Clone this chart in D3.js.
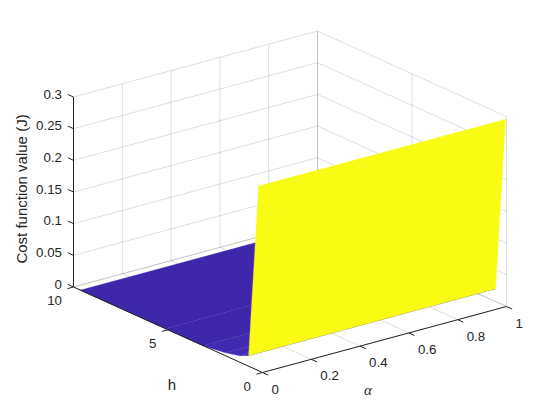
<!DOCTYPE html>
<html lang="en">
  <head>
    <meta charset="UTF-8" />
    <title>Cost function surface</title>
    <style>
      body {
        margin: 0;
        background: #fff;
      }
      svg {
        display: block;
      }
      text {
        font-family: "Liberation Sans", Arial, sans-serif;
        fill: #262626;
      }
      .tick-label {
        font-size: 13.3px;
      }
      .axis-label {
        font-size: 15px;
      }
    </style>
  </head>
  <body>
    <svg width="560" height="419"></svg>

    <script src="https://cdn.jsdelivr.net/npm/d3@7"></script>

    <script>
      // Ticks
      const alphaTicks = [0, 0.2, 0.4, 0.6, 0.8, 1];
      const hTicks = [0, 5, 10];
      const costTicks = [0, 0.05, 0.1, 0.15, 0.2, 0.25, 0.3];

      // Surface samples: the cost only depends on h in this picture
      const alphaValues = [-0.012, 1];
      const hValues = [0.05, 0.58, 1.05, 1.8, 3, 5, 9.5];
      const costValues = [0.295, 0.02, 0.0135, 0.008, 0.003, 0.003, 0.003];

      // Parula colormap stops, low to high
      const parula = ["#3e26a8", "#4a3de0", "#2f8ff0", "#1fb3c8", "#5fc67f", "#d0bc3c", "#f9fb15"];

      const svg = d3.select("svg");

      // Each data axis moves a point across the screen, so two scales per axis
      const alphaX = d3.scaleLinear().domain([0, 1]).range([0, 244]);
      const alphaY = d3.scaleLinear().domain([0, 1]).range([0, -66]);
      const hX = d3.scaleLinear().domain([0, 10]).range([0, -189]);
      const hY = d3.scaleLinear().domain([0, 10]).range([0, -85.5]);
      const costY = d3.scaleLinear().domain([0, 0.3]).range([0, -190]);

      const color = d3
        .scaleLinear()
        .domain(parula.map((c, i) => (i / (parula.length - 1)) * 0.295))
        .range(parula);

      function project(a, h, z) {
        return [262.5 + alphaX(a) + hX(h), 372.5 + alphaY(a) + hY(h) + costY(z)];
      }

      function drawLine(g, from, to, stroke, opacity, width) {
        g.append("path")
          .attr("d", d3.line()([project(...from), project(...to)]))
          .attr("fill", "none")
          .attr("stroke", stroke)
          .attr("stroke-opacity", opacity)
          .attr("stroke-width", width);
      }

      // Grid on the floor and the two back walls
      const grid = svg.append("g");
      const gridLine = (from, to) => drawLine(grid, from, to, "#262626", 0.15, 1);

      costTicks.forEach((z) => {
        gridLine([0, 10, z], [1, 10, z]);
        gridLine([1, 10, z], [1, 0, z]);
      });
      alphaTicks.forEach((a) => {
        gridLine([a, 10, 0], [a, 10, 0.3]);
        gridLine([a, 0, 0], [a, 10, 0]);
      });
      hTicks.forEach((h) => {
        gridLine([1, h, 0], [1, h, 0.3]);
        gridLine([0, h, 0], [1, h, 0]);
      });

      // Surface bands, painted from the far end of h to the near end
      const surface = svg.append("g");
      d3.range(hValues.length - 2, -1, -1).forEach((i) => {
        const quad = [
          project(alphaValues[0], hValues[i], costValues[i]),
          project(alphaValues[1], hValues[i], costValues[i]),
          project(alphaValues[1], hValues[i + 1], costValues[i + 1]),
          project(alphaValues[0], hValues[i + 1], costValues[i + 1]),
        ];
        surface
          .append("path")
          .attr("d", d3.line().curve(d3.curveLinearClosed)(quad))
          .attr("fill", color(costValues[i]))
          .attr("stroke", color(costValues[i]))
          .attr("stroke-width", 0.3);
      });

      // Axis lines and ticks
      const axes = svg.append("g");
      const axisLine = (from, to) => drawLine(axes, from, to, "#262626", 1, 1);

      axisLine([0, 10, 0], [0, 10, 0.3]);
      axisLine([0, 0, 0], [0, 10, 0]);
      axisLine([0, 0, 0], [1, 0, 0]);

      costTicks.forEach((z) => axisLine([0, 10, z], [0, 10.3, z]));
      hTicks.forEach((h) => axisLine([0, h, 0], [-0.025, h, 0]));
      alphaTicks.forEach((a) => axisLine([a, 0, 0], [a, -0.3, 0]));

      // Tick labels
      const labels = svg.append("g").attr("class", "tick-label");

      costTicks.forEach((z) => {
        const [x, y] = project(0, 10, z);
        labels
          .append("text")
          .attr("x", x - 11.5)
          .attr("y", y + 1.5)
          .attr("text-anchor", "end")
          .text(z);
      });
      hTicks.forEach((h) => {
        const [x, y] = project(0, h, 0);
        labels
          .append("text")
          .attr("x", x - 11.5)
          .attr("y", y + 18)
          .attr("text-anchor", "end")
          .text(h);
      });
      alphaTicks.forEach((a) => {
        const [x, y] = project(a, 0, 0);
        labels
          .append("text")
          .attr("x", x + 9)
          .attr("y", y + 21)
          .text(a);
      });

      // Axis titles
      svg
        .append("text")
        .attr("class", "axis-label")
        .attr("transform", "translate(27,189) rotate(-90)")
        .attr("text-anchor", "middle")
        .text("Cost function value (J)");

      svg
        .append("text")
        .attr("class", "axis-label")
        .attr("x", 172)
        .attr("y", 390)
        .attr("text-anchor", "middle")
        .text("h");

      svg
        .append("text")
        .attr("class", "axis-label")
        .attr("x", 368)
        .attr("y", 395)
        .attr("text-anchor", "middle")
        .style("font-family", "'Liberation Serif', serif")
        .style("font-style", "italic")
        .text("α");
    </script>
  </body>
</html>
